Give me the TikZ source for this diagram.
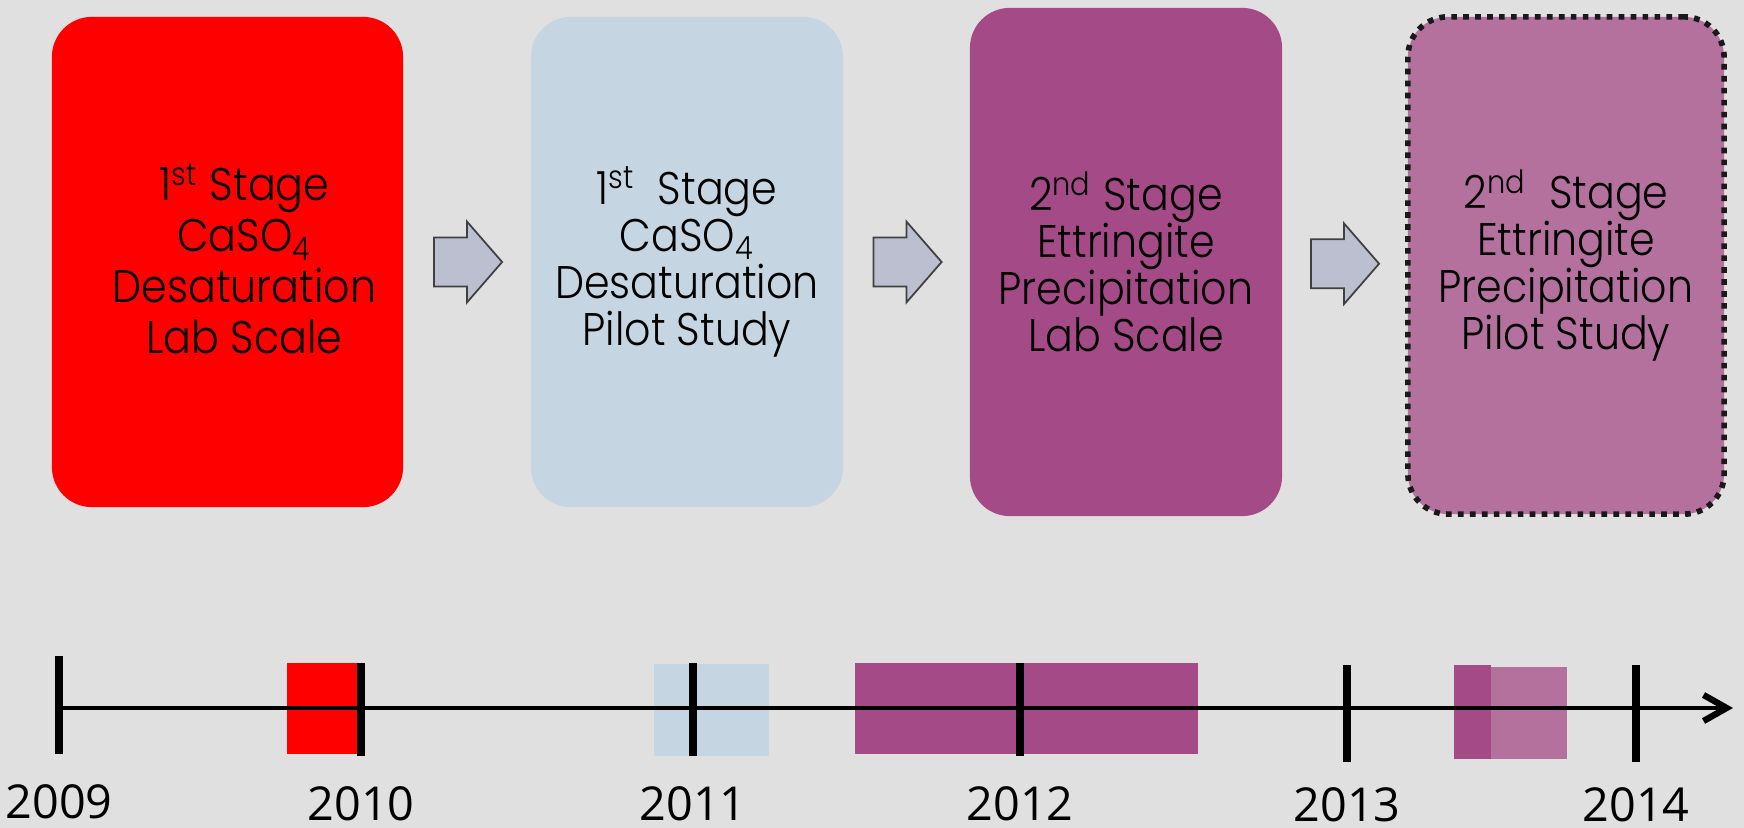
\documentclass[tikz,border=0pt]{standalone}
\usepackage{fontspec}
\setmainfont{Poppins Light}[FakeStretch=0.9]
\newfontfamily\yearfont{Open Sans}
\usepackage{tikz}
\usetikzlibrary{shapes.arrows,calc,arrows.meta,positioning}
\definecolor{stagered}{RGB}{255,0,0}
\definecolor{stageblue}{RGB}{197,214,226}
\definecolor{stagepurple}{RGB}{164,75,135}
\definecolor{stagepink}{RGB}{181,113,157}
\definecolor{slidegray}{RGB}{224,224,224}
\definecolor{arrowfill}{RGB}{188,191,208}

\begin{document}
\begin{tikzpicture}[x=0.01cm,y=-0.01cm,
  stagebox/.style={rounded corners=0.4cm,align=center,inner sep=0pt,font=\fontsize{13}{13.4}\selectfont},
  nextarrow/.style={single arrow,draw=black!75,fill=arrowfill,line width=0.5pt,inner xsep=0pt,inner ysep=0.235cm,
    minimum height=0.68cm,single arrow head extend=0.16cm,single arrow tip angle=98,xshift=-0.095cm},
  yeartick/.style={line width=2pt},
  yearlabel/.style={below=0.15cm,inner sep=0.333em,font=\yearfont\fontsize{13.3}{14}\selectfont}]
  \useasboundingbox (0,0) rectangle (1744,828);
  \fill[slidegray] (0,0) rectangle (1744,828);
 % \draw[thin,gray!40] (0,0) grid[step=100] (1744,828);
  \node[stagebox,fill=stagered,minimum width=3.51cm,minimum height=4.90cm] (labone) at (227.5,262) {};
  \node[stagebox,font=\fontsize{13}{14.5}\selectfont] (labonetext) at ([xshift=0.17cm,yshift=0.03cm]labone.center)
    {1\textsuperscript{st} Stage\\CaSO\textsubscript{4}\\Desaturation\\Lab Scale};
  \node[stagebox,fill=stageblue,minimum width=3.12cm,minimum height=4.90cm]
    (pilotone) at (687,262) {1\textsuperscript{st}\ \ Stage\\CaSO\textsubscript{4}\\Desaturation\\Pilot Study};
  \node[stagebox,fill=stagepurple,minimum width=3.12cm,minimum height=5.08cm]
    (labtwo) at (1126,262) {2\textsuperscript{nd} Stage\\Ettringite\\Precipitation\\Lab Scale};
  \node[stagebox,fill=stagepink,draw=black!90,line width=1.6pt,dash pattern=on 1.6pt off 1.8pt,minimum width=3.16cm,minimum height=4.97cm]
    (pilottwo) at (1566,265.5) {2\textsuperscript{nd}\ \ Stage\\Ettringite\\Precipitation\\Pilot Study};
  \node[nextarrow] (arrone) at ($(labone.east)!0.5!(pilotone.west)$) {};
  \node[nextarrow] (arrtwo) at ($(pilotone.east)!0.5!(labtwo.west)$) {};
  \node[nextarrow] (arrthree) at ($(labtwo.east)!0.5!(pilottwo.west)$) {};
  % timeline
  \fill[stagered] (287,663) rectangle (361,754);
  \fill[stageblue] (654,664) rectangle (769,756);
  \fill[stagepurple] (855,663) rectangle (1198,754);
  \fill[stagepurple] (1454,665) rectangle (1491,759);
  \fill[stagepink] (1491,667) rectangle (1567,759);
  \coordinate (tstart) at (59,708);
  \coordinate (tend) at (1733,708);
  \draw[line width=1.3pt,-{Straight Barb[length=0.23cm,width=0.26cm,line width=1.8pt]}] (tstart) -- (tend);
  \draw[yeartick] (59,656) -- (59,754) node[yearlabel] (y2009) {2009};
  \draw[yeartick] (361,663) -- (361,756) node[yearlabel] (y2010) {2010};
  \draw[yeartick] (693,663) -- (693,756) node[yearlabel] (y2011) {2011};
  \draw[yeartick] (1020,663) -- (1020,756) node[yearlabel] (y2012) {2012};
  \draw[yeartick] (1347,665) -- (1347,762) node[yearlabel,below=0.10cm] (y2013) {2013};
  \draw[yeartick] (1636,665) -- (1636,762) node[yearlabel,below=0.10cm] (y2014) {2014};
\end{tikzpicture}
\end{document}
